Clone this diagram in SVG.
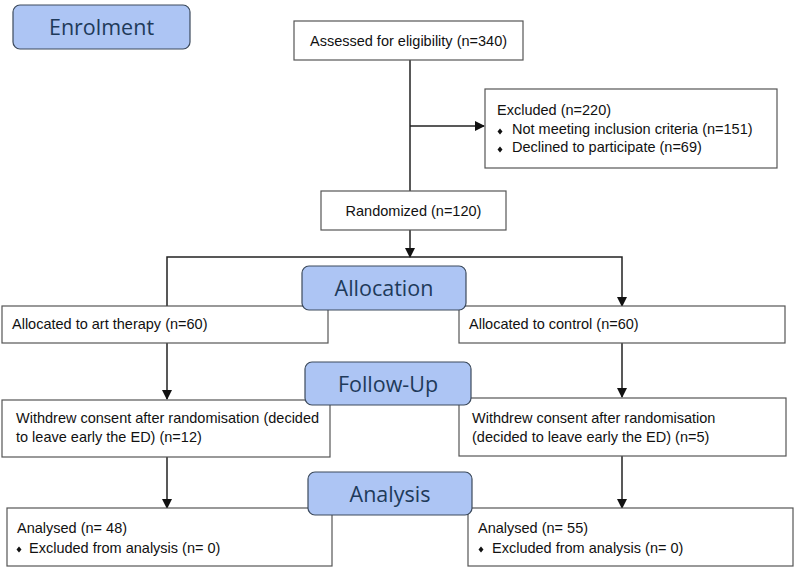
<svg xmlns="http://www.w3.org/2000/svg" width="794" height="571" viewBox="0 0 794 571">
<defs>
<marker id="arr" markerWidth="10" markerHeight="10" refX="9" refY="5" orient="auto" markerUnits="userSpaceOnUse">
<path d="M0,0 L10,5 L0,10 z" fill="#111"/>
</marker>
<style>
.box{fill:#fff;stroke:#555;stroke-width:1.2}
.hdr{fill:#adc5f4;stroke:#3c4a5c;stroke-width:1.2}
.ht{font-family:"Open Sans","Noto Sans",sans-serif;font-size:21.5px;fill:#1e3a5a;text-anchor:middle}
.t{font-family:"Liberation Sans",Arial,sans-serif;font-size:14.5px;fill:#111}
.c{text-anchor:middle}
.conn{stroke:#222;stroke-width:1.5;fill:none}
.bul{fill:#111}
</style>
</defs>
<rect width="794" height="571" fill="#fff"/>
<g id="connectors">
<line class="conn" x1="410" y1="60" x2="410" y2="191"/>
<line class="conn" x1="410" y1="126" x2="484" y2="126" marker-end="url(#arr)"/>
<line class="conn" x1="410" y1="230" x2="410" y2="257" marker-end="url(#arr)"/>
<polyline class="conn" points="167,306 167,257 622,257 622,306" marker-start="url(#arr)" marker-end="url(#arr)"/>
<line class="conn" x1="167" y1="343" x2="167" y2="399" marker-end="url(#arr)"/>
<line class="conn" x1="622" y1="343" x2="622" y2="397" marker-end="url(#arr)"/>
<line class="conn" x1="167" y1="457" x2="167" y2="508" marker-end="url(#arr)"/>
<line class="conn" x1="622" y1="456" x2="622" y2="508" marker-end="url(#arr)"/>
</g>
<g id="enrolment"><rect class="hdr" x="13" y="5" width="177" height="44" rx="7"/><text class="ht" x="101.5" y="35">Enrolment</text></g>
<g id="assessed"><rect class="box" x="294" y="21" width="229" height="39"/><text class="t c" x="408.5" y="46">Assessed for eligibility (n=340)</text></g>
<g id="excluded"><rect class="box" x="485" y="89" width="292" height="79"/>
<text class="t" x="497" y="115">Excluded (n=220)</text>
<path class="bul" d="M500,128.5 l2.5,3 l-2.5,3 l-2.5,-3z"/>
<text class="t" x="512" y="134">Not meeting inclusion criteria (n=151)</text>
<path class="bul" d="M500,146.5 l2.5,3 l-2.5,3 l-2.5,-3z"/>
<text class="t" x="512" y="152">Declined to participate (n=69)</text></g>
<g id="randomized"><rect class="box" x="321" y="191" width="185" height="39"/><text class="t c" x="413.5" y="216">Randomized (n=120)</text></g>
<g id="alloc-art"><rect class="box" x="2" y="306" width="326" height="37"/><text class="t" x="12" y="329">Allocated to art therapy (n=60)</text></g>
<g id="alloc-ctrl"><rect class="box" x="459" y="306" width="326" height="37"/><text class="t" x="469" y="329">Allocated to control (n=60)</text></g>
<g id="allocation"><rect class="hdr" x="302" y="266" width="164" height="44" rx="7"/><text class="ht" x="384" y="296">Allocation</text></g>
<g id="withdrew-art"><rect class="box" x="2" y="400" width="328" height="57"/>
<text class="t" x="16" y="423">Withdrew consent after randomisation (decided</text>
<text class="t" x="16" y="442">to leave early the ED) (n=12)</text></g>
<g id="withdrew-ctrl"><rect class="box" x="459" y="398" width="327" height="58"/>
<text class="t" x="472" y="423">Withdrew consent after randomisation</text>
<text class="t" x="472" y="442">(decided to leave early the ED) (n=5)</text></g>
<g id="followup"><rect class="hdr" x="305" y="362" width="166" height="43" rx="7"/><text class="ht" x="388" y="392">Follow-Up</text></g>
<g id="analysed-art"><rect class="box" x="7" y="508" width="325" height="58"/>
<text class="t" x="17" y="533">Analysed (n= 48)</text>
<path class="bul" d="M19,546.5 l2.5,3 l-2.5,3 l-2.5,-3z"/>
<text class="t" x="29" y="553">Excluded from analysis (n= 0)</text></g>
<g id="analysed-ctrl"><rect class="box" x="468" y="508" width="325" height="58"/>
<text class="t" x="478" y="533">Analysed (n= 55)</text>
<path class="bul" d="M481,546.5 l2.5,3 l-2.5,3 l-2.5,-3z"/>
<text class="t" x="492" y="553">Excluded from analysis (n= 0)</text></g>
<g id="analysis"><rect class="hdr" x="308" y="472" width="164" height="43" rx="7"/><text class="ht" x="390" y="502">Analysis</text></g>
</svg>
